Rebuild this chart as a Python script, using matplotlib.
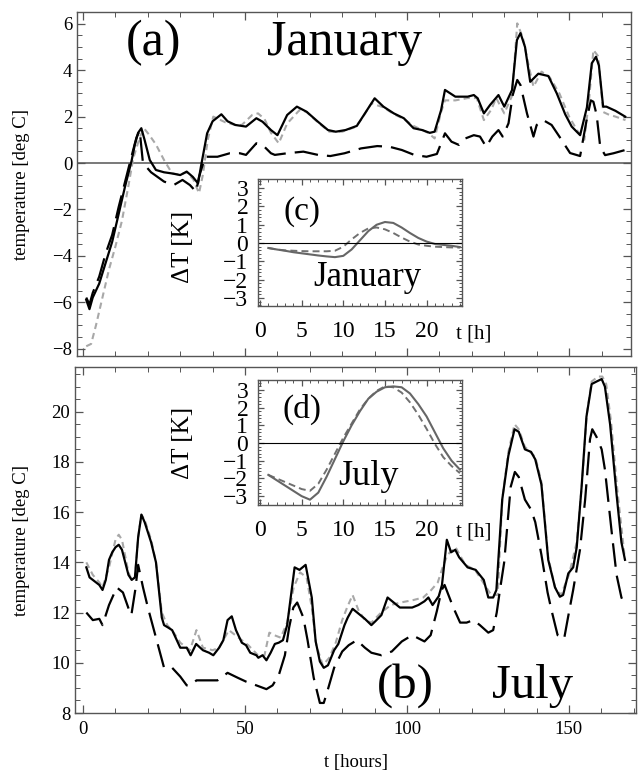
import matplotlib
matplotlib.use('Agg')
import matplotlib.pyplot as plt
from matplotlib.ticker import MultipleLocator

plt.rcParams['font.family'] = 'serif'
plt.rcParams['font.serif'] = ['Liberation Serif', 'DejaVu Serif']
plt.rcParams['lines.scale_dashes'] = False

## January (a): hourly temperature, three model runs
jan_solid_t = [1, 2, 3, 5, 7, 9, 11, 13, 15, 16, 17, 18, 19, 20.6, 22.5, 25, 27.5, 30, 32, 33.9,
               35.5, 36.4, 38.3, 40, 42.7, 44.6, 47, 50.3, 53.5, 55.4, 58, 60, 63, 66, 69, 72.5,
               75.6, 78, 81, 84.5, 87, 90, 92.7, 95.9, 99, 102, 104.7, 107, 108.5, 110.5, 111.7,
               114.9, 118.7, 120.6, 121.8, 123.7, 125.6, 128.2, 130, 132.4, 133.9, 135, 136.4, 138,
               140.5, 143.6, 146.2, 148.8, 150.8, 153.4, 155.5, 157, 158.3, 159.2, 160.5, 161.5,
               164.3, 167.3]
jan_solid = [-5.9, -6.3, -5.8, -5.2, -4.3, -3.4, -2.2, -1.0, 0.1, 0.8, 1.3, 1.5, 1.0, 0.13, -0.3,
             -0.4, -0.45, -0.52, -0.37, -0.6, -0.88, -0.15, 1.28, 1.8, 2.1, 1.8, 1.64, 1.57, 1.93,
             1.78, 1.42, 1.2, 2.07, 2.43, 2.21, 1.78, 1.42, 1.35, 1.42, 1.6, 2.14, 2.79, 2.43, 2.14,
             1.93, 1.5, 1.42, 1.3, 1.35, 2.28, 3.15, 2.86, 2.86, 2.93, 2.79, 2.14, 2.5, 2.93, 2.43,
             3.15, 5.3, 5.6, 5.0, 3.5, 3.85, 3.75, 3.0, 2.1, 1.57, 1.2, 2.4, 4.3, 4.58, 4.2, 2.43,
             2.43, 2.25, 2.0]

jan_gray_t = [1, 2.5, 4, 6, 8, 10, 12, 14, 15.5, 17.5, 18.8, 20.5, 22.5, 25, 27.5, 30, 32, 34, 35.8,
              37, 38.5, 40.2, 44, 47, 49, 52.2, 54, 56, 58, 60.4, 63, 66.8, 69, 72.5, 76, 80, 84,
              86, 89, 92.7, 96, 99, 102, 105, 106.5, 108.5, 110.5, 111.7, 114.9, 118.7, 121.5,
              123.7, 126, 127.5, 130, 132.4, 134, 135.8, 137.6, 139, 141.5, 144, 147, 150, 152.5,
              154.7, 156.2, 157.5, 159, 160.5, 162, 164.3, 167.4]
jan_gray = [-7.9, -7.8, -7.0, -5.8, -4.6, -3.6, -2.5, -1.0, 0.2, 1.1, 1.5, 1.2, 0.8, 0.13, -0.45,
            -0.5, -0.4, -0.7, -1.3, -0.5, 1.0, 2.0, 1.75, 1.64, 1.64, 2.07, 2.14, 1.9, 1.3, 0.85,
            1.7, 2.28, 2.2, 1.75, 1.35, 1.35, 1.55, 1.9, 2.57, 2.4, 2.1, 1.9, 1.6, 1.4, 1.3, 1.06,
            2.2, 2.7, 2.7, 2.8, 2.8, 1.85, 2.3, 2.8, 2.14, 2.9, 6.02, 5.37, 4.15, 3.29, 3.94, 3.7,
            3.0, 2.0, 1.4, 1.0, 2.8, 4.87, 4.6, 2.2, 2.1, 2.0, 1.85]

jan_dash_t = [1, 2, 3, 5, 7, 9, 11, 13, 15, 16.5, 17.5, 18.5, 21, 25, 28, 30.7, 33, 34.9, 35.8,
              37.7, 41.5, 45.3, 48.4, 50.3, 53.5, 55.4, 58, 59.2, 63, 68, 72.5, 76.3, 80.7, 85.8,
              90.8, 94.6, 98.4, 102.2, 106, 109.2, 110.5, 111.7, 113.7, 116, 118, 120.6, 122.5,
              124.4, 126.3, 128.2, 129.5, 131.3, 132.6, 134, 135, 137, 139, 140, 142, 144.6, 147,
              150.3, 153.4, 155.4, 156.7, 157.5, 158.5, 159.6, 161.1, 163.7, 167.3]
jan_dash = [-5.8, -6.1, -5.6, -4.9, -3.9, -3.1, -1.9, -0.8, 0.3, 1.1, 1.4, 0.0, -0.4, -0.8, -0.95,
            -0.73, -0.95, -1.24, -0.6, 0.27, 0.27, 0.42, 0.42, 0.35, 0.85, 0.78, 0.42, 0.35, 0.42,
            0.49, 0.35, 0.3, 0.42, 0.63, 0.73, 0.7, 0.56, 0.35, 0.27, 0.39, 0.85, 1.28, 0.92, 0.78,
            1.06, 1.2, 1.14, 0.7, 1.14, 1.42, 1.14, 1.71, 2.93, 3.58, 3.36, 2.14, 1.14, 1.64, 1.85,
            1.64, 1.14, 0.43, 0.3, 1.85, 2.7, 2.64, 2.07, 0.7, 0.34, 0.42, 0.56]

## July (b)
jul_solid_t = [1, 2, 3, 4, 5, 6, 7, 8, 9, 10, 11, 12, 13, 14, 15, 16, 17, 18, 19, 20, 21, 22.5,
               24.3, 25, 26.3, 27.5, 30, 32, 33.2, 34.9, 37, 38.9, 40.2, 42, 43.3, 44.6, 45.9,
               47.2, 49, 50.3, 51.6, 53.5, 54.1, 55.4, 56.6, 57.9, 59.2, 60.4, 61.7, 63, 64.2,
               65.3, 66.8, 68.7, 70.6, 71.8, 73.1, 74.3, 75.6, 77.5, 78.8, 80.7, 81.7, 83.2, 85.1,
               87, 89, 90.2, 92.1, 94, 95.9, 97.8, 99.7, 101.6, 103.5, 105.4, 106.6, 107.9, 109.8,
               110.8, 112.3, 113.6, 114.9, 116.1, 118.7, 121.2, 123.7, 125.1, 126.6, 127.6, 129.4,
               131.3, 133.2, 134.5, 136.4, 138.3, 139.6, 141.5, 143.6, 145.7, 147.2, 148.2, 149.8,
               151.3, 152.4, 153.9, 155.4, 157, 158.5, 160.1, 161.1, 162.7, 164.7, 166.2, 167.3]
jul_solid = [13.8, 13.4, 13.3, 13.2, 13.1, 12.9, 13.3, 14.1, 14.4, 14.6, 14.7, 14.5, 14.0, 13.5,
             13.3, 13.4, 15.0, 15.9, 15.6, 15.2, 14.8, 14.0, 11.8, 11.5, 11.4, 11.3, 10.6, 10.6,
             10.3, 10.75, 10.5, 10.4, 10.3, 10.6, 10.9, 11.7, 11.85, 11.3, 10.8, 10.7, 10.4, 10.3,
             10.2, 10.3, 10.1, 10.4, 10.75, 10.8, 10.9, 11.5, 12.7, 13.8, 13.7, 13.9, 12.6, 10.85,
             10.05, 9.8, 9.9, 10.5, 10.75, 11.5, 11.8, 12.15, 11.95, 11.75, 11.5, 11.65, 11.9,
             12.6, 12.4, 12.2, 12.2, 12.2, 12.3, 12.45, 12.6, 12.3, 12.65, 13.1, 14.9, 14.4, 14.5,
             14.2, 13.8, 13.7, 13.3, 12.6, 12.6, 12.9, 16.5, 18.25, 19.3, 19.2, 18.5, 18.4, 18.1,
             17.1, 14.1, 13.0, 12.63, 12.7, 13.56, 13.8, 14.6, 17.0, 19.8, 21.1, 21.2, 21.3, 21.0,
             19.5, 16.7, 14.8, 14.1]

jul_gray_t = [1, 3, 5, 6, 8, 10, 11, 12, 14, 15, 16, 17, 18, 19, 21, 22.5, 24.3, 26, 28, 30, 33,
              35, 37, 40, 42, 45, 48, 51, 54, 56, 57.5, 59, 61, 63, 65, 67, 69, 70.6, 72, 74, 76,
              78, 80, 81.5, 83.2, 85, 87, 89, 92, 95, 98, 102, 105, 107.5, 109.5, 111, 112.5, 115,
              118, 121, 124, 126, 128, 129.4, 131.3, 133.2, 134.5, 136.4, 139.6, 141.5, 143.6,
              145.7, 147.5, 150, 152.4, 154, 155.5, 157, 159, 160.3, 161.5, 163, 165, 167.3]
jul_gray = [14.0, 13.5, 13.2, 13.0, 13.8, 14.9, 15.1, 14.9, 13.6, 13.3, 13.4, 15.0, 15.9, 15.7,
            14.9, 14.0, 12.0, 11.5, 11.2, 10.8, 10.5, 11.3, 10.6, 10.5, 10.6, 11.3, 11.0, 10.7,
            10.3, 10.3, 11.2, 11.1, 11.0, 11.6, 13.0, 13.6, 13.4, 12.2, 10.7, 9.9, 10.2, 10.8,
            11.7, 12.2, 12.7, 12.1, 11.7, 11.6, 12.0, 12.3, 12.4, 12.5, 12.6, 12.9, 13.2, 13.8,
            14.3, 14.6, 13.9, 13.7, 13.1, 12.7, 12.7, 16.5, 18.4, 19.5, 19.3, 18.6, 18.2, 17.2,
            14.2, 13.0, 12.7, 13.5, 14.8, 17.1, 19.9, 21.2, 21.4, 21.4, 21.1, 19.6, 16.8, 14.1]

jul_dash_t = [1, 3, 5, 6, 8, 10.4, 12.3, 14.2, 14.9, 16.1, 17, 18.5, 20, 22.5, 25, 27.5, 30, 32,
              33.2, 35, 38.3, 41.5, 44.6, 47.8, 50.3, 53.5, 56.6, 58.5, 60.4, 62.3, 63.6, 64.9,
              66.1, 68, 69.3, 71.2, 73.1, 74.3, 75.6, 77.5, 80, 82, 84.5, 87, 89, 92.1, 95.3, 98.4,
              101.6, 105.4, 107.3, 109.2, 110.7, 111.6, 114.3, 116.4, 118.4, 120.5, 122.5, 125.1,
              126.6, 127.7, 128.7, 130, 132, 133.3, 134.5, 136.4, 138.3, 139.6, 141.5, 143.4,
              144.6, 146.5, 148.5, 149.7, 151.3, 153.4, 155, 156.5, 157.2, 158.5, 160.1, 161.1,
              163.2, 164.7, 166.2, 167.3]
jul_dash = [12.0, 11.7, 11.75, 11.5, 12.3, 13.0, 12.8, 12.1, 11.9, 12.9, 13.9, 13.0, 12.2, 11.0,
            9.8, 9.8, 9.45, 9.1, 9.1, 9.3, 9.3, 9.3, 9.6, 9.4, 9.25, 9.1, 8.95, 9.1, 9.5, 10.3,
            11.4, 12.2, 12.4, 11.8, 10.9, 9.4, 8.4, 8.4, 8.95, 9.8, 10.45, 10.7, 10.9, 10.6, 10.4,
            10.3, 10.45, 10.85, 11.1, 10.85, 11.1, 12.05, 12.9, 13.1, 12.2, 11.6, 11.6, 11.7, 11.5,
            11.2, 11.3, 12.0, 12.9, 14.0, 17.0, 17.6, 17.4, 16.5, 16.1, 15.6, 14.3, 12.8, 12.1,
            11.1, 10.95, 11.8, 12.9, 14.5, 16.5, 18.9, 19.3, 19.0, 18.5, 17.7, 15.2, 13.5, 12.6,
            12.3]

## Insets (c), (d): mean daily cycle dT [K]
hours = list(range(1, 25))
c_solid = [-0.27, -0.35, -0.42, -0.5, -0.56, -0.62, -0.68, -0.73, -0.77, -0.7, -0.35, 0.15, 0.65,
           1.0, 1.15, 1.1, 0.85, 0.55, 0.28, 0.08, -0.05, -0.1, -0.15, -0.22]
c_dash = [-0.27, -0.35, -0.4, -0.42, -0.44, -0.45, -0.45, -0.45, -0.42, -0.2, 0.2, 0.55, 0.8,
          0.85, 0.75, 0.55, 0.3, 0.08, -0.08, -0.15, -0.2, -0.22, -0.24, -0.25]
d_solid = [-1.8, -2.1, -2.4, -2.7, -3.0, -3.2, -2.8, -1.9, -0.9, 0.1, 1.0, 1.8, 2.5, 2.9, 3.15,
           3.2, 3.15, 2.8, 2.2, 1.5, 0.6, -0.3, -1.0, -1.5]
d_dash = [-1.8, -2.0, -2.2, -2.4, -2.6, -2.7, -2.3, -1.5, -0.6, 0.3, 1.1, 1.9, 2.5, 2.95, 3.2,
          3.15, 2.85, 2.3, 1.6, 0.8, -0.05, -0.8, -1.3, -1.7]

W, H = 639, 772
frame = '#555555'
gray = '#a8a8a8'

fig = plt.figure(figsize=(W/100, H/100), dpi=100)

def box(l, t, r, b):
    return [l/W, 1 - b/H, (r - l)/W, (b - t)/H]

def style(ax, xmaj, xmin, ymaj, ymin, size, lmaj, lmin, xpad, ypad):
    ax.xaxis.set_major_locator(MultipleLocator(xmaj))
    ax.xaxis.set_minor_locator(MultipleLocator(xmin))
    ax.yaxis.set_major_locator(MultipleLocator(ymaj))
    ax.yaxis.set_minor_locator(MultipleLocator(ymin))
    ax.tick_params(which='both', direction='in', top=True, right=True,
                   colors=frame, labelcolor='black', labelsize=size)
    ax.tick_params(which='major', length=lmaj, width=0.9)
    ax.tick_params(which='minor', length=lmin, width=0.7)
    ax.tick_params(axis='x', pad=xpad)
    ax.tick_params(axis='y', pad=ypad)
    for s in ax.spines.values():
        s.set_color(frame)
        s.set_linewidth(1.0)

def main_lines(ax, gt, gv, dt, dv, st, sv):
    ax.plot(gt, gv, color=gray, lw=1.5, dashes=(4.5, 3))
    ax.plot(dt, dv, color='black', lw=1.6, dashes=(17, 6.5))
    ax.plot(st, sv, color='black', lw=1.6)

## (a) January
ax_a = fig.add_axes(box(77, 12, 631, 356))
main_lines(ax_a, jan_gray_t, jan_gray, jan_dash_t, jan_dash, jan_solid_t, jan_solid)
ax_a.axhline(0, color=frame, lw=1.1, zorder=0)
ax_a.set_xlim(-1.85, 169.1)
ax_a.set_ylim(-8.32, 6.51)
style(ax_a, 50, 10, 2, 0.5, 13.5, 6, 3.5, 6, 3.5)
ax_a.tick_params(labelbottom=False)

## (b) July
ax_b = fig.add_axes(box(75, 367, 636, 713))
main_lines(ax_b, jul_gray_t, jul_gray, jul_dash_t, jul_dash, jul_solid_t, jul_solid)
ax_b.set_xlim(-2.5, 170.7)
ax_b.set_ylim(8, 21.78)
style(ax_b, 50, 10, 2, 0.5, 13.5, 6, 3.5, 6, 3.5)

## insets
def inset(rect, ylim, solid, dash):
    ax = fig.add_axes(rect)
    ax.plot(hours, dash, color='#707070', lw=1.4, dashes=(5, 3))
    ax.plot(hours, solid, color='#666666', lw=1.5)
    ax.axhline(0, color='black', lw=0.8)
    ax.set_xlim(-0.24, 24.25)
    ax.set_ylim(*ylim)
    style(ax, 5, 1, 1, 0.2, 17, 4, 2, 11, 7)
    ax.set_xticks([0, 5, 10, 15, 20])
    return ax

ax_c = inset(box(258, 179, 462, 306), (-3.44, 3.5), c_solid, c_dash)
ax_d = inset(box(258, 380, 462, 505), (-3.5, 3.56), d_solid, d_dash)

## texts
def ftext(x, y, s, **kw):
    fig.text(x/W, 1 - y/H, s, **kw)

ftext(153, 55, '(a)', fontsize=36, ha='center', va='baseline')
ftext(345, 55, 'January', fontsize=36, ha='center', va='baseline')
ftext(405, 698, '(b)', fontsize=35, ha='center', va='baseline')
ftext(533, 698, 'July', fontsize=35, ha='center', va='baseline')

ftext(302, 220, '(c)', fontsize=24, ha='center', va='baseline')
ftext(367, 286, 'January', fontsize=25, ha='center', va='baseline')
ftext(302, 418, '(d)', fontsize=24, ha='center', va='baseline')
ftext(368, 485, 'July', fontsize=26, ha='center', va='baseline')

ftext(183, 247, '\u0394T [K]', fontsize=18, rotation=90, ha='center', va='center')
ftext(183, 443, '\u0394T [K]', fontsize=18, rotation=90, ha='center', va='center')
ftext(456, 338, 't [h]', fontsize=15, ha='left', va='baseline')
ftext(456, 537, 't [h]', fontsize=15, ha='left', va='baseline')

ftext(22, 185, 'temperature [deg C]', fontsize=13.5, rotation=90, ha='center', va='center')
ftext(22, 540, 'temperature [deg C]', fontsize=13.5, rotation=90, ha='center', va='center')
ftext(356, 763, 't [hours]', fontsize=13.5, ha='center', va='center')

fig.savefig('out.png', dpi=100)
